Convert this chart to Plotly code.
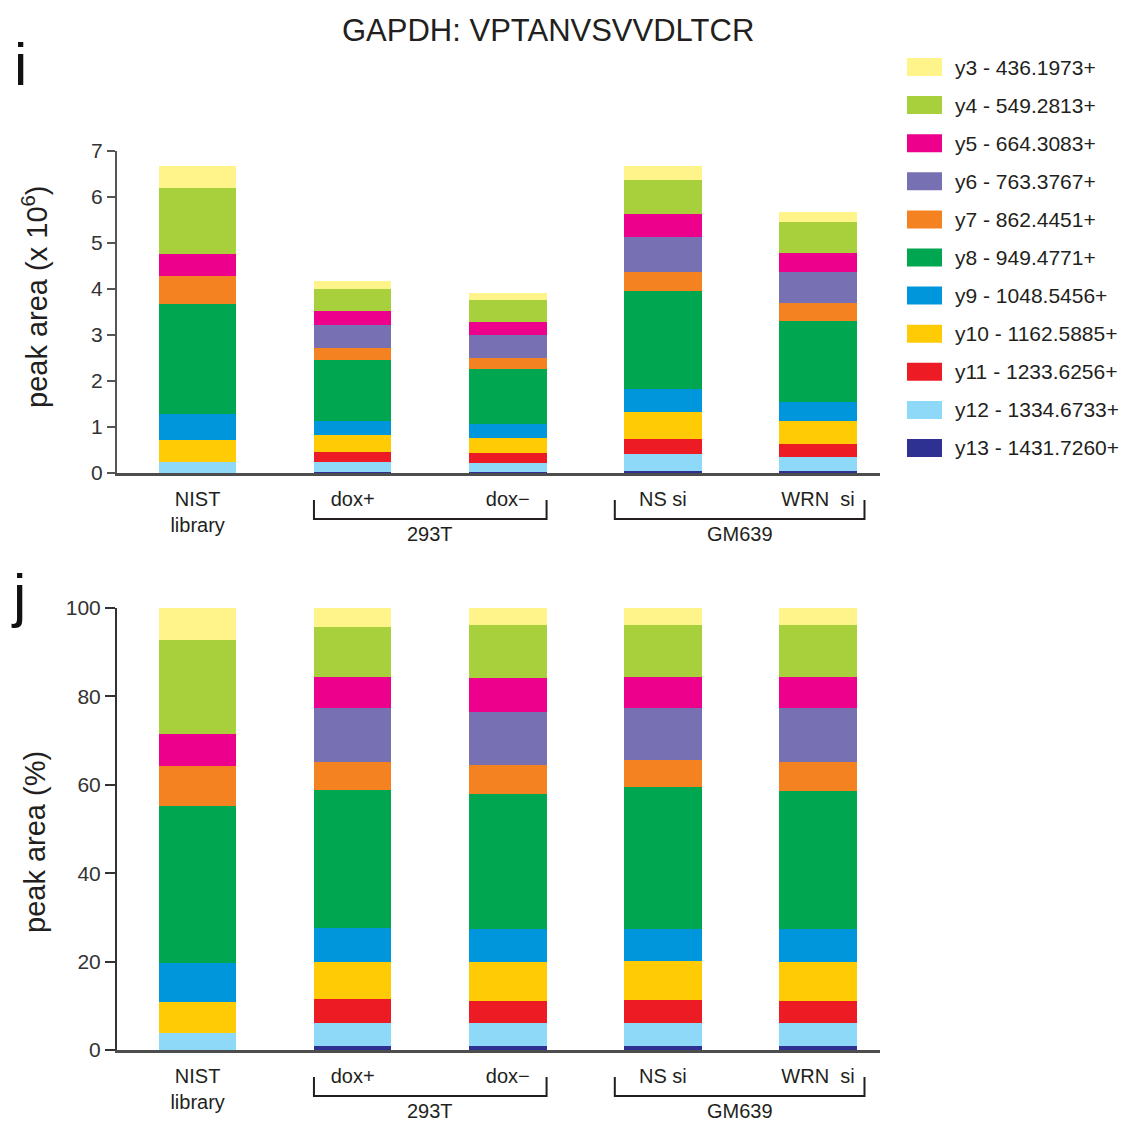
import plotly.graph_objects as go
from plotly.subplots import make_subplots

# ---------------- data ----------------
categories = ["NIST<br>library", "dox+", "dox\u2212", "NS si", "WRN\u00a0\u00a0si"]
ions = ["y3 - 436.1973+", "y4 - 549.2813+", "y5 - 664.3083+", "y6 - 763.3767+",
        "y7 - 862.4451+", "y8 - 949.4771+", "y9 - 1048.5456+", "y10 - 1162.5885+",
        "y11 - 1233.6256+", "y12 - 1334.6733+", "y13 - 1431.7260+"]
colors = ["#FFF48A", "#A8CF3C", "#EC008C", "#7771B3", "#F58220", "#00A650",
          "#0096DB", "#FFCB05", "#ED1C24", "#8ED8F8", "#2E3192"]

# panel i : peak area (x 10^6), order NIST, dox+, dox-, NS si, WRN si
abs_y3 = [0.48, 0.18, 0.15, 0.29, 0.22]
abs_y4 = [1.43, 0.47, 0.47, 0.74, 0.67]
abs_y5 = [0.49, 0.31, 0.30, 0.50, 0.40]
abs_y6 = [0.00, 0.50, 0.48, 0.76, 0.69]
abs_y7 = [0.60, 0.26, 0.25, 0.43, 0.38]
abs_y8 = [2.39, 1.31, 1.19, 2.13, 1.77]
abs_y9 = [0.58, 0.32, 0.30, 0.49, 0.42]
abs_y10 = [0.47, 0.36, 0.34, 0.59, 0.49]
abs_y11 = [0.00, 0.21, 0.21, 0.33, 0.29]
abs_y12 = [0.24, 0.22, 0.19, 0.37, 0.30]
abs_y13 = [0.00, 0.03, 0.03, 0.04, 0.04]

# panel j : peak area (%)
pct_y3 = [7.2, 4.2, 3.8, 3.9, 3.8]
pct_y4 = [21.3, 11.3, 12.0, 11.6, 11.7]
pct_y5 = [7.3, 7.2, 7.7, 7.1, 7.1]
pct_y6 = [0.0, 12.2, 12.0, 11.7, 12.3]
pct_y7 = [9.0, 6.2, 6.5, 6.3, 6.5]
pct_y8 = [35.6, 31.3, 30.6, 32.0, 31.2]
pct_y9 = [8.8, 7.6, 7.6, 7.3, 7.5]
pct_y10 = [7.0, 8.5, 8.6, 8.8, 8.7]
pct_y11 = [0.0, 5.3, 5.0, 5.1, 5.0]
pct_y12 = [3.8, 5.2, 5.2, 5.2, 5.2]
pct_y13 = [0.0, 1.0, 1.0, 1.0, 1.0]

abs_series = [abs_y3, abs_y4, abs_y5, abs_y6, abs_y7, abs_y8, abs_y9,
              abs_y10, abs_y11, abs_y12, abs_y13]
pct_series = [pct_y3, pct_y4, pct_y5, pct_y6, pct_y7, pct_y8, pct_y9,
              pct_y10, pct_y11, pct_y12, pct_y13]

groups = [("293T", 0.75, 2.25), ("GM639", 2.69, 4.30)]
abs_ticks = [0, 1, 2, 3, 4, 5, 6, 7]
pct_ticks = [0, 20, 40, 60, 80, 100]

# ---------------- figure ----------------
W, H = 1123, 1121
FONT = "Liberation Sans, Arial, Helvetica, sans-serif"
TXT = "#231F20"


def px(x):
    return x / W


def py(y):
    return 1 - y / H


fig = make_subplots(rows=2, cols=1)

# stack bottom-up: y13 first
for i in reversed(range(len(ions))):
    fig.add_trace(go.Bar(x=categories, y=abs_series[i], name=ions[i],
                         marker=dict(color=colors[i], line=dict(width=0)),
                         width=0.5, showlegend=False), row=1, col=1)
    fig.add_trace(go.Bar(x=categories, y=pct_series[i], name=ions[i],
                         marker=dict(color=colors[i], line=dict(width=0)),
                         width=0.5, showlegend=False), row=2, col=1)

xdom = [px(117), px(880)]
xcommon = dict(domain=xdom, range=[-0.52, 4.40], showgrid=False, zeroline=False,
               showline=True, linecolor="#4D4D4D", linewidth=2.5, ticks="",
               tickfont=dict(family=FONT, size=20, color=TXT), type="category",
               ticklabelstandoff=6, fixedrange=True, automargin=False)
fig.update_layout(
    xaxis=dict(**xcommon, anchor="y"),
    xaxis2=dict(**xcommon, anchor="y2"),
    yaxis=dict(domain=[py(473), py(151)], range=[0, 7], tickvals=abs_ticks,
               showgrid=False, zeroline=False, showline=True, linecolor="#555555",
               linewidth=2, ticks="outside", ticklen=8, tickwidth=1.5,
               tickcolor="#555555", tickfont=dict(family=FONT, size=21, color="#333333"),
               anchor="x", automargin=False),
    yaxis2=dict(domain=[py(1050), py(608)], range=[0, 100], tickvals=pct_ticks,
                showgrid=False, zeroline=False, showline=True, linecolor="#333333",
                linewidth=2, ticks="outside", ticklen=10, tickwidth=1.5,
                tickcolor="#333333", tickfont=dict(family=FONT, size=21, color="#333333"),
                anchor="x2", automargin=False),
    barmode="stack",
    width=W, height=H,
    margin=dict(l=0, r=0, t=0, b=0, pad=0, autoexpand=False),
    paper_bgcolor="white", plot_bgcolor="white",
    showlegend=False,
)

shapes = []
annotations = []

# brackets and group labels
for (top_axis_px, xref) in [(473, "x"), (1050, "x2")]:
    y_top = py(top_axis_px + 27)
    y_bot = py(top_axis_px + 46)
    for name, x0, x1 in groups:
        shapes.append(dict(type="path", xref=xref, yref="paper",
                           path=f"M {x0},{y_top} L {x0},{y_bot} L {x1},{y_bot} L {x1},{y_top}",
                           line=dict(color="#231F20", width=2)))
        annotations.append(dict(text=name, xref=xref, yref="paper", x=(x0 + x1) / 2,
                                y=py(top_axis_px + 61), showarrow=False,
                                xanchor="center", yanchor="middle",
                                font=dict(family=FONT, size=20, color=TXT)))

# legend (swatches + labels)
for k, (name, col) in enumerate(zip(ions, colors)):
    cy = 67 + k * 38.1
    shapes.append(dict(type="rect", xref="paper", yref="paper",
                       x0=px(907), x1=px(942), y0=py(cy - 9), y1=py(cy + 9),
                       fillcolor=col, line=dict(width=0)))
    annotations.append(dict(text=name, xref="paper", yref="paper", x=px(953), y=py(cy),
                            xanchor="left", yanchor="middle", showarrow=False,
                            font=dict(family=FONT, size=21, color=TXT)))

# title, axis titles, panel letters
annotations += [
    dict(text="GAPDH: VPTANVSVVDLTCR", xref="paper", yref="paper", x=px(548), y=py(31),
         showarrow=False, xanchor="center", yanchor="middle",
         font=dict(family=FONT, size=31, color=TXT)),
    dict(text="peak area (x 10<sup>6</sup>)", xref="paper", yref="paper", x=px(35),
         y=py(297), showarrow=False, textangle=-90, xanchor="center", yanchor="middle",
         font=dict(family=FONT, size=29, color=TXT)),
    dict(text="peak area (%)", xref="paper", yref="paper", x=px(35), y=py(842),
         showarrow=False, textangle=-90, xanchor="center", yanchor="middle",
         font=dict(family=FONT, size=29, color=TXT)),
    dict(text="i", xref="paper", yref="paper", x=px(20), y=py(64), showarrow=False,
         xanchor="center", yanchor="middle", font=dict(family=FONT, size=60, color="#111111")),
    dict(text="j", xref="paper", yref="paper", x=px(18), y=py(595), showarrow=False,
         xanchor="center", yanchor="middle", font=dict(family=FONT, size=60, color="#111111")),
]

fig.update_layout(shapes=shapes, annotations=annotations)
fig.write_html("out.html")
